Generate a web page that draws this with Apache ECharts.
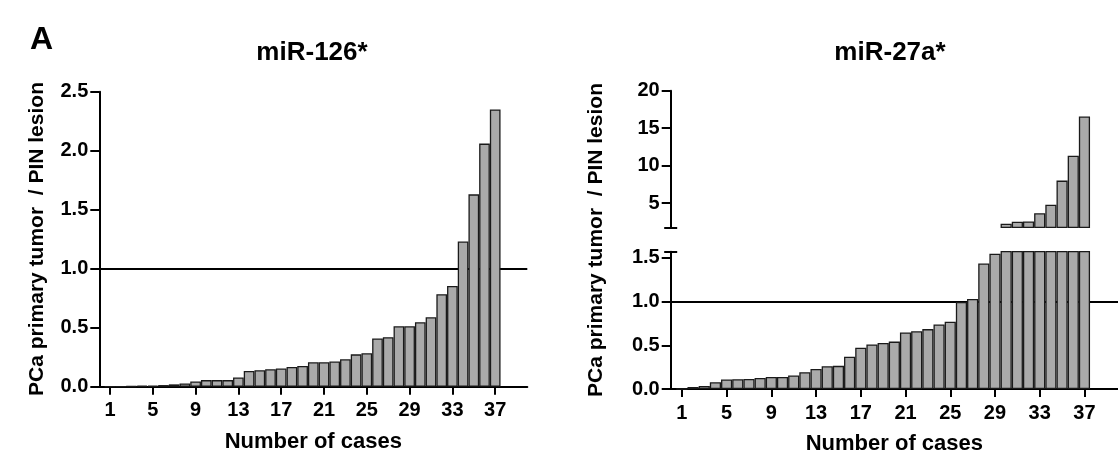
<!DOCTYPE html>
<html>
<head>
<meta charset="utf-8">
<script src="https://cdn.jsdelivr.net/npm/echarts@6/dist/echarts.min.js"></script>
<style>
  html, body { margin: 0; padding: 0; background: #fff; }
  #chart { width: 1118px; height: 459px; }
</style>
</head>
<body>
<div id="chart"></div>
<script>
// case numbers on the x axis (cases sorted by ratio)
const caseNumbers = [1, 2, 3, 4, 5, 6, 7, 8, 9, 10, 11, 12, 13, 14, 15, 16, 17, 18, 19,
  20, 21, 22, 23, 24, 25, 26, 27, 28, 29, 30, 31, 32, 33, 34, 35, 36, 37];
const caseTicks = [1, 5, 9, 13, 17, 21, 25, 29, 33, 37];

// PCa primary tumor / PIN lesion ratios
const mir126 = [0, 0, 0.003, 0.008, 0.008, 0.014, 0.02, 0.028, 0.045, 0.056, 0.056, 0.056,
  0.078, 0.134, 0.14, 0.148, 0.154, 0.168, 0.176, 0.207, 0.207, 0.213, 0.232, 0.274, 0.283,
  0.409, 0.42, 0.512, 0.512, 0.546, 0.588, 0.784, 0.854, 1.23, 1.63, 2.06, 2.35];
const mir27a = [0, 0.023, 0.035, 0.077, 0.108, 0.112, 0.115, 0.127, 0.138, 0.138, 0.154,
  0.192, 0.23, 0.26, 0.265, 0.37, 0.473, 0.51, 0.527, 0.542, 0.646, 0.66, 0.685, 0.738, 0.77,
  0.995, 1.03, 1.435, 1.546, 2.25, 2.51, 2.56, 3.65, 4.78, 8.0, 11.32, 16.55];

const refLevel = 1.0;
const leftTicks = [0, 0.5, 1, 1.5, 2, 2.5];
const lowTicks = [0, 0.5, 1, 1.5];
const highTicks = [5, 10, 15, 20];
const lowMax = 1.57;   // top of lower segment (broken axis)
const highMin = 1.77;  // bottom of upper segment

const FONT = '"Liberation Sans", Arial, sans-serif';
const lab = { color: '#000', fontFamily: FONT, fontWeight: 'bold', fontSize: 20 };
const axLine = { show: true, lineStyle: { color: '#000', width: 2 } };

function xAx(grid, show) {
  return {
    type: 'value', gridIndex: grid, min: 0, max: 40, show: show,
    axisLine: axLine,
    axisTick: { customValues: caseTicks, length: 8, lineStyle: { color: '#000', width: 2 } },
    axisLabel: Object.assign({ customValues: caseTicks, margin: 14 }, lab),
    splitLine: { show: false },
    name: 'Number of cases', nameLocation: 'middle', nameGap: 44,
    nameTextStyle: { color: '#000', fontFamily: FONT, fontWeight: 'bold', fontSize: 22 }
  };
}
function yAx(grid, min, max, ticks, fmt) {
  return {
    type: 'value', gridIndex: grid, position: 'left', min: min, max: max,
    axisLine: axLine,
    axisTick: { customValues: ticks, length: 9, lineStyle: { color: '#000', width: 2 } },
    axisLabel: Object.assign({ customValues: ticks, margin: 11, formatter: fmt }, lab),
    splitLine: { show: false }
  };
}
// short cross mark at the end of a broken axis segment
function capAx(grid, min, max, at) {
  return {
    type: 'value', gridIndex: grid, position: 'left', min: min, max: max, offset: -6.5,
    axisLine: { show: false },
    axisTick: { customValues: [at], length: 13, lineStyle: { color: '#000', width: 2 } },
    axisLabel: { show: false },
    splitLine: { show: false }
  };
}

const barStyle = { color: '#aaaaaa', borderColor: '#1a1a1a', borderWidth: 1.3 };
const refLine = {
  z: 1, silent: true, symbol: 'none', label: { show: false },
  lineStyle: { color: '#000', width: 2, type: 'solid' },
  data: [{ yAxis: refLevel }]
};

const chart = echarts.init(document.getElementById('chart'));
chart.setOption({
  animation: false,
  backgroundColor: '#fff',
  grid: [
    { left: 99.3, width: 428, top: 91.7, height: 295 },
    { left: 670.7, width: 449, top: 251.7, height: 137.3 },
    { left: 670.7, width: 449, top: 90.7, height: 136.6 }
  ],
  xAxis: [xAx(0, true), xAx(1, true), xAx(2, false)],
  yAxis: [
    yAx(0, 0, 2.5, leftTicks, v => v.toFixed(1)),
    yAx(1, 0, lowMax, lowTicks, v => v.toFixed(1)),
    capAx(1, 0, lowMax, lowMax),
    yAx(2, highMin, 20, highTicks, v => String(v)),
    capAx(2, highMin, 20, highMin)
  ],
  graphic: [
    { type: 'text', left: 30, top: 24, style: { text: 'A', font: 'bold 32px ' + FONT, fill: '#000' } },
    { type: 'text', x: 312, y: 53, style: { text: 'miR-126*', font: 'bold 26px ' + FONT, fill: '#000', align: 'center', verticalAlign: 'middle' } },
    { type: 'text', x: 890, y: 53, style: { text: 'miR-27a*', font: 'bold 26px ' + FONT, fill: '#000', align: 'center', verticalAlign: 'middle' } },
    { type: 'text', x: 37, y: 239, rotation: Math.PI / 2, style: { text: 'PCa primary tumor  / PIN lesion', font: 'bold 21px ' + FONT, fill: '#000', align: 'center', verticalAlign: 'middle' } },
    { type: 'text', x: 596, y: 240, rotation: Math.PI / 2, style: { text: 'PCa primary tumor  / PIN lesion', font: 'bold 21px ' + FONT, fill: '#000', align: 'center', verticalAlign: 'middle' } }
  ],
  series: [
    {
      type: 'bar', xAxisIndex: 0, yAxisIndex: 0, z: 2, barCategoryGap: '0%',
      itemStyle: barStyle,
      data: caseNumbers.map((c, i) => [c, mir126[i]]),
      markLine: refLine
    },
    {
      type: 'bar', xAxisIndex: 1, yAxisIndex: 1, z: 2, barCategoryGap: '0%', clip: true,
      itemStyle: barStyle,
      data: caseNumbers.map((c, i) => [c, mir27a[i]]),
      markLine: refLine
    },
    {
      type: 'bar', xAxisIndex: 2, yAxisIndex: 3, z: 2, barCategoryGap: '0%', clip: true,
      itemStyle: barStyle,
      data: caseNumbers.map((c, i) => [c, mir27a[i]]).filter(d => d[1] > lowMax)
    }
  ]
});
</script>
</body>
</html>
